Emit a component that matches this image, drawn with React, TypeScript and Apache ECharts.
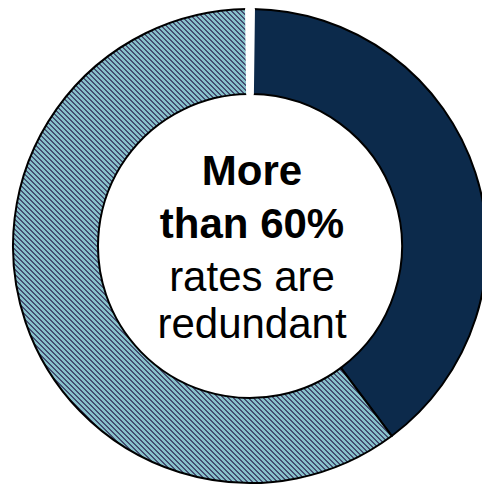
import React, { useEffect, useRef } from "react";
import * as echarts from "echarts";

// Share of rates (percent of the ring)
const sliceNames = ["Non-redundant", "Redundant", "gap"];
const sliceValues = [39.6, 60.0, 0.4];

// Centre caption, one entry per line
const captionLines = ["More", "than 60%", "rates are", "redundant"];
const captionBold = [true, true, false, false];

// Diagonal two-tone stripe tile used as the fill of the larger slice
function makeStripePattern(): HTMLCanvasElement {
  const size = 5;
  const c = document.createElement("canvas");
  c.width = size;
  c.height = size;
  const ctx = c.getContext("2d")!;
  for (let y = 0; y < size; y++) {
    for (let x = 0; x < size; x++) {
      const k = (((x - y) % size) + size) % size;
      ctx.fillStyle = k < 2 ? "#434c71" : "#87c1ca";
      ctx.fillRect(x, y, 1, 1);
    }
  }
  return c;
}

export default function App() {
  const ref = useRef<HTMLDivElement>(null);

  useEffect(() => {
    if (!ref.current) return;
    const chart = echarts.init(ref.current, null, { renderer: "svg" });
    const pattern = makeStripePattern();
    const gapDeg = (sliceValues[2] / sliceValues.reduce((a, b) => a + b, 0)) * 360;

    const fills: any[] = [
      "#0c2a4b",
      { image: pattern, repeat: "repeat" },
      "#ffffff",
    ];

    const lineY = [170, 223, 276, 323];

    chart.setOption({
      animation: false,
      backgroundColor: "#ffffff",
      series: [
        {
          type: "pie",
          center: [250, 246],
          radius: [152, 237],
          startAngle: 90 - gapDeg / 2,
          clockwise: true,
          silent: true,
          label: { show: false },
          labelLine: { show: false },
          emphasis: { disabled: true },
          data: sliceNames.map((name, i) => ({
            name,
            value: sliceValues[i],
            itemStyle:
              i === 2
                ? { color: "#ffffff", borderColor: "#ffffff", borderWidth: 4 }
                : { color: fills[i], borderColor: "#000000", borderWidth: 2 },
          })),
        },
      ],
      graphic: captionLines.map((t, i) => ({
        type: "text",
        x: 252,
        y: lineY[i],
        silent: true,
        style: {
          text: t,
          fill: "#000000",
          fontFamily: "'Liberation Sans', Arial, sans-serif",
          fontSize: 42,
          fontWeight: captionBold[i] ? "bold" : "normal",
          align: "center",
          verticalAlign: "middle",
        },
      })),
    });

    return () => chart.dispose();
  }, []);

  return (
    <div
      ref={ref}
      style={{ position: "absolute", left: 0, top: 0, width: 482, height: 485 }}
    />
  );
}
